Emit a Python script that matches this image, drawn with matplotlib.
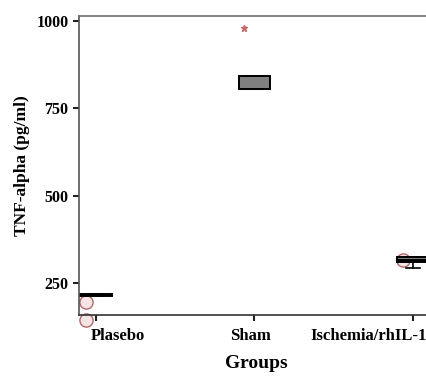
import matplotlib
matplotlib.use("Agg")
import matplotlib.pyplot as plt
import matplotlib.transforms as mtransforms

# --- Data ---
groups = ["Plasebo", "Sham", "Ischemia/rhIL-11"]
q1 = [213, 806, 310]
med = [218, 806, 318]
q3 = [220, 842, 325]
whislo = [213, 806, 293]
whishi = [220, 842, 325]
outliers = [[197, 145], [], [318]]   # circles
extremes = [[], [979], []]           # asterisks

yticks = [250, 500, 750, 1000]

# --- Figure ---
plt.rcParams["font.family"] = ["Liberation Serif", "DejaVu Serif"]
plt.rcParams["font.weight"] = "bold"

fig = plt.figure(figsize=(4.27, 3.76), dpi=100)
ax = fig.add_axes([0.185, 0.162, 0.875, 0.796])

pos = list(range(len(groups)))
stats = []
for i in pos:
    stats.append(dict(q1=q1[i], med=med[i], q3=q3[i],
                      whislo=whislo[i], whishi=whishi[i], fliers=[]))

ax.bxp(stats, positions=pos, widths=0.2, patch_artist=True,
       showfliers=False, capwidths=0.09,
       boxprops=dict(facecolor="#808080", edgecolor="black", linewidth=1.4),
       medianprops=dict(color="black", linewidth=1.4),
       whiskerprops=dict(color="black", linewidth=1.2),
       capprops=dict(color="black", linewidth=1.2))

off = -0.065
for i in pos:
    if outliers[i]:
        ax.plot([i + off] * len(outliers[i]), outliers[i], "o", ms=9.5,
                mfc="#f6e4e4", mec="#b06868", mew=1.0, clip_on=False, zorder=1)
    if extremes[i]:
        ax.plot([i + off] * len(extremes[i]), extremes[i], "*", ms=5,
                color="#c46a6a", clip_on=False, zorder=3)

ax.set_xlim(-0.107, 2.25)
ax.set_ylim(159.4, 1014.3)
ax.set_xticks(pos)
ax.set_xticklabels(groups, fontsize=12, fontweight="bold")
ax.set_yticks(yticks)
ax.set_yticklabels([str(v) for v in yticks], fontsize=11.5, fontweight="bold")
ax.tick_params(axis="both", length=4, width=1.5, color="#222222")
ax.tick_params(axis="x", pad=5)

# shift the category labels the way the source image has them
shifts = [22, -4, -103]
for lab, dx in zip(ax.get_xticklabels(), shifts):
    lab.set_transform(lab.get_transform() +
                      mtransforms.ScaledTranslation(dx / 100, 0, fig.dpi_scale_trans))
ax.get_xticklabels()[2].set_ha("left")

ax.spines["top"].set_color("#707070")
ax.spines["left"].set_color("#555555")
ax.spines["bottom"].set_color("#333333")
for s in ax.spines.values():
    s.set_linewidth(1.2)

ax.set_xlabel("Groups", fontsize=14, fontweight="bold")
ax.xaxis.set_label_coords(0.474, -0.132)
ax.set_ylabel("TNF-alpha (pg/ml)", fontsize=12.5, fontweight="bold", labelpad=5)

fig.savefig("out.png", dpi=100)
